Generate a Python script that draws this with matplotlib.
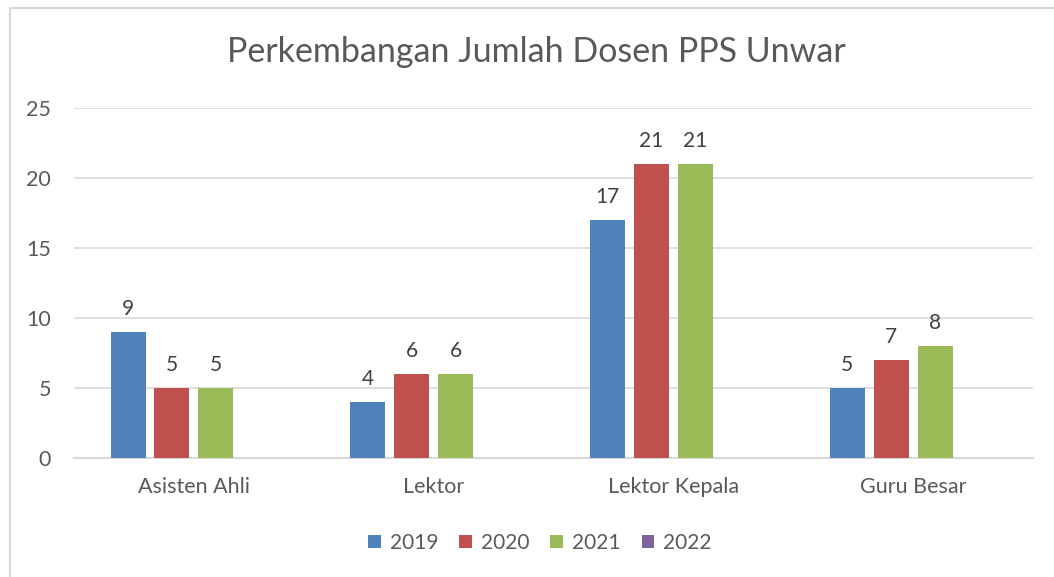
import numpy as np
import matplotlib.pyplot as plt
from matplotlib.patches import Rectangle

kategori = ["Asisten Ahli", "Lektor", "Lektor Kepala", "Guru Besar"]
tahun = ["2019", "2020", "2021", "2022"]
nilai_2019 = [9, 4, 17, 5]
nilai_2020 = [5, 6, 21, 7]
nilai_2021 = [5, 6, 21, 8]
nilai_2022 = [np.nan, np.nan, np.nan, np.nan]  # belum ada data

warna = ["#4F81BD", "#C0504D", "#9BBB59", "#8064A2"]
abu = "#595959"

plt.rcParams['font.family'] = ['Lato', 'DejaVu Sans']

fig = plt.figure(figsize=(10.54, 5.77), dpi=100)
# bingkai luar
fig.patches.append(Rectangle((10 / 1054, -0.1), 1.2, 1.1 - 8 / 577,
                             transform=fig.transFigure, fill=False,
                             edgecolor="#d9d9d9", linewidth=1.5))
ax = fig.add_axes([74 / 1054, 1 - 458 / 577, 959 / 1054, 350 / 577])

x = np.arange(len(kategori))
lebar = 0.146
jarak = 0.183
semua = [nilai_2019, nilai_2020, nilai_2021, nilai_2022]
for i, (th, vals) in enumerate(zip(tahun, semua)):
    pos = x + (i - 1.5) * jarak
    ax.bar(pos, vals, width=lebar, color=warna[i], label=th, zorder=3)
    for p, v in zip(pos, vals):
        if not np.isnan(v):
            ax.text(p, v + 0.9, f"{v:g}", ha="center", va="bottom",
                    fontsize=15, color="#404040")

ax.set_xlim(-0.5, 3.5)
ax.set_ylim(0, 25)
ax.set_yticks(range(0, 26, 5))
ax.set_xticks(x)
ax.set_xticklabels(kategori)
ax.grid(axis="y", color="#d9d9d9", linewidth=1.2, zorder=0)
for s in ["top", "right", "left"]:
    ax.spines[s].set_visible(False)
ax.spines["bottom"].set_color("#d9d9d9")
ax.spines["bottom"].set_linewidth(1.5)
ax.tick_params(axis="both", length=0, labelsize=15.5, colors=abu)
ax.tick_params(axis="x", pad=14)
ax.tick_params(axis="y", pad=16.5)

fig.text(536.5 / 1054, 1 - 52 / 577, "Perkembangan Jumlah Dosen PPS Unwar",
         ha="center", va="center", fontsize=24.5, color=abu)

leg = fig.legend(loc="center", bbox_to_anchor=(540 / 1054, 1 - 543 / 577), ncol=4,
                 frameon=False, fontsize=15, handlelength=0.6, handleheight=0.6,
                 columnspacing=1.0, handletextpad=0.45)
for t in leg.get_texts():
    t.set_color(abu)

fig.savefig("out.png", dpi=100)
